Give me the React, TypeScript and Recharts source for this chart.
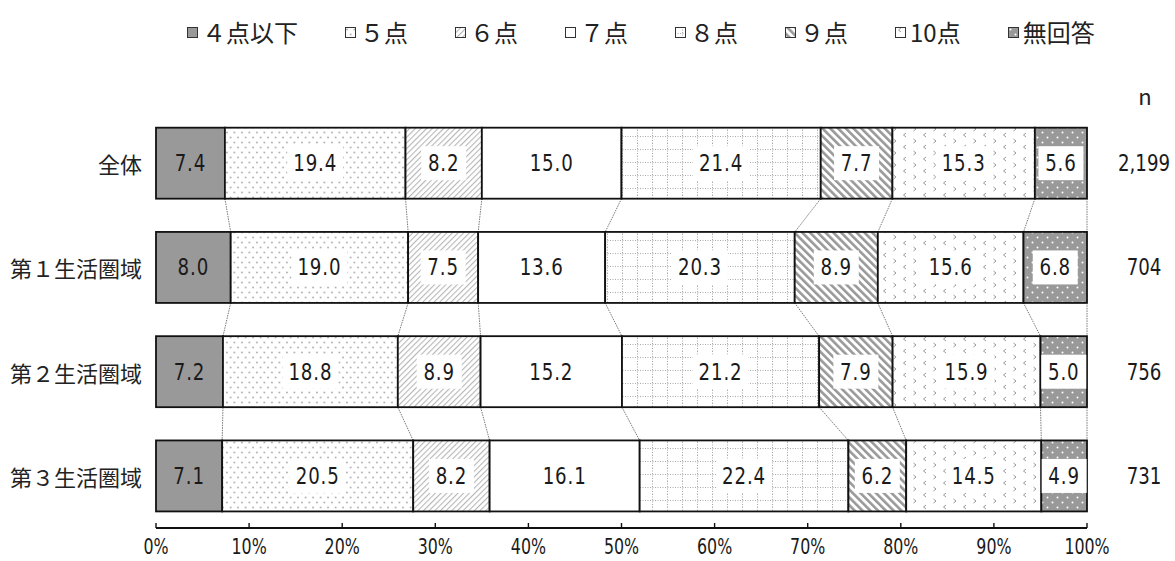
import React from 'react';
import { BarChart, Bar, XAxis, YAxis, Legend, LabelList } from 'recharts';

const categories = ['全体', '第１生活圏域', '第２生活圏域', '第３生活圏域'];
const sampleSizes = ['2,199', '704', '756', '731'];
const seriesNames = ['４点以下', '５点', '６点', '７点', '８点', '９点', '10点', '無回答'];
const totalValues = [7.4, 19.4, 8.2, 15.0, 21.4, 7.7, 15.3, 5.6];
const area1Values = [8.0, 19.0, 7.5, 13.6, 20.3, 8.9, 15.6, 6.8];
const area2Values = [7.2, 18.8, 8.9, 15.2, 21.2, 7.9, 15.9, 5.0];
const area3Values = [7.1, 20.5, 8.2, 16.1, 22.4, 6.2, 14.5, 4.9];
const xTicks = [0, 10, 20, 30, 40, 50, 60, 70, 80, 90, 100];

const rows = [totalValues, area1Values, area2Values, area3Values];
const fills = ['#999999', 'url(#pat5)', 'url(#pat6)', '#ffffff', 'url(#pat8)', 'url(#pat9)', 'url(#pat10)', 'url(#patNA)'];
const GAP = 0.16;

const data = categories.map((c, i) => {
  const vals = rows[i];
  const sum = vals.reduce((a, b) => a + b, 0);
  const o: any = { cat: c, n: sampleSizes[i] };
  vals.forEach((v, k) => {
    o['v' + k] = (v / sum) * 100;
    o['r' + k] = v;
  });
  return o;
});

const cum = data.map((d) => {
  let s = 0;
  return seriesNames.map((_, k) => (s += d['v' + k]));
});

const VALUE_FONT = '"DejaVu Sans Condensed", "DejaVu Sans", sans-serif';
const JP_FONT = '"Noto Sans CJK JP", "Noto Sans", sans-serif';

const makeShape = (k: number) => (props: any) => {
  const { x, y, width, height, fill } = props;
  let row = data.findIndex((d) => d.cat === props.payload?.cat);
  if (row < 0) row = props.index ?? 0;
  const val = data[row]['v' + k];
  const ppu = width / val;
  const left = x - (cum[row][k] - val) * ppu;
  const band = height / (1 - 2 * GAP);
  let conn = null;
  if (row < data.length - 1) {
    const x1 = left + cum[row][k] * ppu;
    const x2 = left + cum[row + 1][k] * ppu;
    conn = (
      <line x1={x1} y1={y + height} x2={x2} y2={y + band} stroke="#555" strokeWidth={0.8} strokeDasharray="1.5 1" />
    );
  }
  return (
    <g>
      <rect x={x} y={y} width={width} height={height} fill={fill} stroke="#111" strokeWidth={1.8} />
      {conn}
    </g>
  );
};

const makeLabel = (k: number) => (props: any) => {
  const x = Number(props.x), y = Number(props.y), width = Number(props.width), height = Number(props.height);
  const cx = x + width / 2;
  const cy = y + height / 2;
  const txt = Number(props.value).toFixed(1);
  const w = txt.length * 11 + 12;
  return (
    <g>
      {k !== 0 && <rect x={cx - w / 2} y={cy - 17} width={w} height={34} fill="#ffffff" />}
      <text
        x={0}
        y={0}
        transform={`translate(${cx},${cy}) scale(0.88,1)`}
        textAnchor="middle"
        dominantBaseline="central"
        fontFamily={VALUE_FONT}
        fontSize={23}
        letterSpacing={1}
        fill="#1a1a1a"
      >
        {txt}
      </text>
    </g>
  );
};

const XTick = (props: any) => {
  const { x, y, payload } = props;
  const axisY = y - 12;
  return (
    <g>
      <line x1={x} x2={x} y1={axisY - 5} y2={axisY} stroke="#111" strokeWidth={1.4} />
      <text
        x={0}
        y={0}
        transform={`translate(${x},${axisY + 19}) scale(0.8,1)`}
        textAnchor="middle"
        dominantBaseline="central"
        fontFamily={VALUE_FONT}
        fontSize={22}
        fill="#1a1a1a"
      >
        {payload.value + '%'}
      </text>
    </g>
  );
};

const NTick = (props: any) => {
  const { x, y, payload } = props;
  return (
    <text
      x={0}
      y={0}
      transform={`translate(${x + 57},${y}) scale(0.88,1)`}
      textAnchor="middle"
      dominantBaseline="central"
      fontFamily={VALUE_FONT}
      fontSize={23}
      fill="#1a1a1a"
    >
      {payload.value}
    </text>
  );
};

const CatTick = (props: any) => {
  const { x, y, payload } = props;
  return (
    <text x={x} y={y} textAnchor="end" dominantBaseline="central" fontFamily={JP_FONT} fontSize={22} fill="#222">
      {payload.value}
    </text>
  );
};

const renderLegend = () => (
  <div style={{ display: 'flex', alignItems: 'center', gap: 47, fontFamily: JP_FONT, fontSize: 24, lineHeight: '30px', color: '#222', whiteSpace: 'nowrap' }}>
    {seriesNames.map((name, k) => (
      <div key={name} style={{ display: 'flex', alignItems: 'center', gap: 4 }}>
        <svg width={11} height={11} style={{ display: 'block' }}>
          <rect x={0.5} y={0.5} width={10} height={10} fill={fills[k]} stroke="#333" strokeWidth={1} />
        </svg>
        <span>{name}</span>
      </div>
    ))}
  </div>
);

const NLabel = (props: any) => {
  const vb = props.viewBox || { x: 1087, y: 111 };
  return (
    <text x={vb.x + 58} y={vb.y - 16} textAnchor="middle" dominantBaseline="central" fontFamily={JP_FONT} fontSize={22} fill="#222">
      n
    </text>
  );
};

export default function App() {
  return (
    <div style={{ position: 'absolute', left: 0, top: 0, width: 1175, height: 561, background: '#fff' }}>
      <BarChart
        width={1175}
        height={561}
        data={data}
        layout="vertical"
        margin={{ top: 111, right: 0, bottom: 0, left: 0 }}
        barCategoryGap={`${GAP * 100}%`}
      >
        <defs>
          <pattern id="pat5" width="7.5" height="10" patternUnits="userSpaceOnUse">
            <rect width="7.5" height="10" fill="#fff" />
            <circle cx="1.9" cy="2.5" r="0.9" fill="#aaa" />
            <circle cx="5.6" cy="7.5" r="0.9" fill="#aaa" />
          </pattern>
          <pattern id="pat6" width="4" height="4" patternUnits="userSpaceOnUse" patternTransform="rotate(45)">
            <rect width="4" height="4" fill="#fff" />
            <line x1="0.6" y1="0" x2="0.6" y2="4" stroke="#b0b0b0" strokeWidth="1" />
          </pattern>
          <pattern id="pat8" width="15" height="13" patternUnits="userSpaceOnUse">
            <rect width="15" height="13" fill="#fff" />
            <line x1="0" y1="6.5" x2="15" y2="6.5" stroke="#aaa" strokeWidth="1" strokeDasharray="1 1.5" />
            <line x1="7.5" y1="0" x2="7.5" y2="13" stroke="#aaa" strokeWidth="1" strokeDasharray="1 1.5" />
          </pattern>
          <pattern id="pat9" width="5.5" height="5.5" patternUnits="userSpaceOnUse" patternTransform="rotate(-45)">
            <rect width="5.5" height="5.5" fill="#fff" />
            <line x1="1.3" y1="0" x2="1.3" y2="5.5" stroke="#999" strokeWidth="2.6" />
          </pattern>
          <pattern id="pat10" width="20" height="12" patternUnits="userSpaceOnUse">
            <rect width="20" height="12" fill="#fff" />
            <polyline points="6,1 3.5,3 6,5" fill="none" stroke="#999" strokeWidth="1" />
            <polyline points="13.5,7 16,9 13.5,11" fill="none" stroke="#999" strokeWidth="1" />
          </pattern>
          <pattern id="patNA" width="10" height="10" patternUnits="userSpaceOnUse">
            <rect width="10" height="10" fill="#999" />
            <circle cx="2.5" cy="2.5" r="1" fill="#fff" />
            <circle cx="7.5" cy="7.5" r="1" fill="#fff" />
          </pattern>
        </defs>
        <XAxis
          type="number"
          domain={[0, 100]}
          ticks={xTicks}
          height={33}
          axisLine={{ stroke: '#111', strokeWidth: 1.8 }}
          tickLine={false}
          tickSize={0}
          tickMargin={12}
          tick={<XTick />}
          interval={0}
        />
        <YAxis
          yAxisId="left"
          type="category"
          dataKey="cat"
          width={156}
          axisLine={false}
          tickLine={false}
          tickSize={0}
          tickMargin={14}
          tick={<CatTick />}
        />
        <YAxis
          yAxisId="right"
          orientation="right"
          type="category"
          dataKey="n"
          width={88}
          axisLine={false}
          tickLine={false}
          tickSize={0}
          tickMargin={0}
          tick={<NTick />}
          label={<NLabel />}
        />
        <Legend
          verticalAlign="middle"
          align="center"
          layout="horizontal"
          wrapperStyle={{ top: 17, left: 187, width: 1000 }}
          content={renderLegend}
        />
        {seriesNames.map((name, k) => (
          <Bar
            key={name}
            yAxisId="left"
            dataKey={'v' + k}
            name={name}
            stackId="a"
            fill={fills[k]}
            isAnimationActive={false}
            shape={makeShape(k)}
          >
            <LabelList dataKey={'r' + k} content={makeLabel(k)} />
          </Bar>
        ))}
      </BarChart>
    </div>
  );
}
